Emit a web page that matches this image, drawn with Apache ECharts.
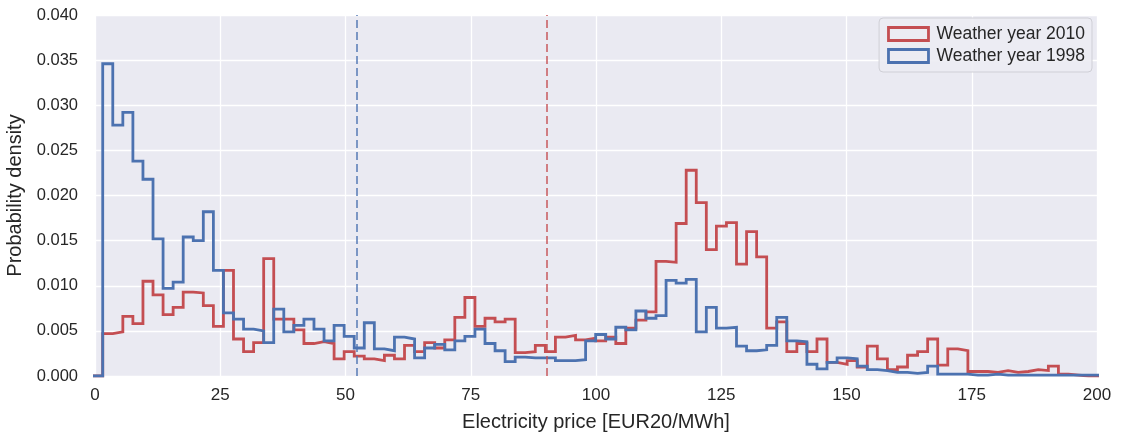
<!DOCTYPE html>
<html><head><meta charset="utf-8">
<script src="https://cdn.jsdelivr.net/npm/echarts@6/dist/echarts.min.js"></script>
<style>html,body{margin:0;padding:0;background:#fff}#c{width:1122px;height:432px}</style>
</head><body><div id="c"></div>
<script>
// Histogram bins (shared by both series); first bin is the empty bin left of the data
const binStart = -0.468;
const binWidth = 2.008;
const seriesNames = ['Weather year 2010', 'Weather year 1998'];
const xTicks = [0, 25, 50, 75, 100, 125, 150, 175, 200];
const yTicks = [0, 0.005, 0.01, 0.015, 0.02, 0.025, 0.03, 0.035, 0.04];
const meanPrices = [90.2, 52.3];

const density2010 = [0,
0.0047,0.0049,0.0066,0.0058,0.0105,0.0090,0.0068,0.0076,0.0093,0.0092,
0.0078,0.0055,0.0117,0.0041,0.0027,0.0037,0.0130,0.0063,0.0063,0.0051,
0.0036,0.0038,0.0036,0.0019,0.0027,0.0022,0.0019,0.0017,0.0023,0.0019,
0.0034,0.0027,0.0037,0.0031,0.0040,0.0065,0.0087,0.0055,0.0064,0.0060,
0.0063,0.0026,0.0027,0.0034,0.0027,0.0043,0.0045,0.0040,0.0042,0.0039,
0.0043,0.0036,0.0053,0.0062,0.0071,0.0127,0.0126,0.0169,0.0228,0.0192,
0.0140,0.0166,0.0170,0.0124,0.0160,0.0132,0.0053,0.0060,0.0027,0.0036,
0.0027,0.0041,0.0015,0.0013,0.0017,0.0010,0.0033,0.0019,0.0007,0.0010,
0.0023,0.0027,0.0041,0.0012,0.0030,0.0028,0.0005,0.0005,0.0004,0.0006,
0.0004,0.0005,0.0007,0.0006,0.0011,0.0002,0.0001,0,0,0];

const density1998 = [0,
0.0346,0.0278,0.0292,0.0238,0.0218,0.0152,0.0097,0.0104,0.0154,0.0150,
0.0182,0.0117,0.0070,0.0063,0.0052,0.0050,0.0037,0.0074,0.0049,0.0056,
0.0063,0.0052,0.0039,0.0056,0.0044,0.0031,0.0059,0.0030,0.0028,0.0043,
0.0041,0.0020,0.0031,0.0035,0.0029,0.0039,0.0044,0.0052,0.0036,0.0028,
0.0016,0.0021,0.0020,0.0020,0.0020,0.0017,0.0017,0.0018,0.0039,0.0046,
0.0041,0.0054,0.0051,0.0072,0.0064,0.0067,0.0106,0.0103,0.0107,0.0049,
0.0076,0.0053,0.0054,0.0033,0.0028,0.0029,0.0034,0.0065,0.0039,0.0038,
0.0013,0.0008,0.0015,0.0020,0.0019,0.0011,0.0007,0.0006,0.0004,0.0004,
0.0003,0.0004,0.0011,0.0002,0.0002,0.0002,0.0001,0.0001,0.0002,0.0001,
0.0001,0.0001,0.0001,0.0001,0.0001,0.0001,0.0001,0.0001,0.0001,0.0001];

const colors = ['#C44E52', '#4C72B0'];

function stepPoints(vals) {
  const pts = [];
  vals.forEach((v, i) => {
    const l = binStart + i * binWidth;
    pts.push([l, v]);
    pts.push([l + binWidth, v]);
  });
  pts.push([binStart + vals.length * binWidth, 0]);
  return pts;
}

const font = '"Liberation Sans", Arial, sans-serif';
const txt = '#262626';
const chart = echarts.init(document.getElementById('c'));
const allData = [density2010, density1998];
chart.setOption({
  animation: false,
  grid: {left: 95, right: 25, top: 15, bottom: 56, show: true, backgroundColor: '#EAEAF2', borderWidth: 0,
         containLabel: false, outerBoundsMode: 'none'},
  legend: {
    orient: 'vertical', right: 30, top: 18,
    backgroundColor: 'rgba(236,236,243,0.9)', borderColor: '#CFCFD6', borderWidth: 1, borderRadius: 4,
    padding: [7, 7, 7, 8], itemGap: 4, itemWidth: 40, itemHeight: 13,
    textStyle: {fontFamily: font, fontSize: 17.5, color: txt, padding: [0, 0, 0, 3]},
    data: seriesNames.map((n, i) => ({name: n, icon: 'rect', itemStyle: {color: 'rgba(0,0,0,0)', borderColor: colors[i], borderWidth: 2.8}}))
  },
  xAxis: {
    type: 'value', min: xTicks[0], max: xTicks[xTicks.length - 1], interval: 25,
    name: 'Electricity price [EUR20/MWh]', nameLocation: 'middle', nameGap: 36,
    nameTextStyle: {fontFamily: font, fontSize: 20, color: txt},
    axisLine: {show: false}, axisTick: {show: false},
    axisLabel: {fontFamily: font, fontSize: 17, color: txt, margin: 11},
    splitLine: {show: true, lineStyle: {color: '#FFFFFF', width: 1.3}}
  },
  yAxis: {
    type: 'value', min: yTicks[0], max: yTicks[yTicks.length - 1], interval: 0.005,
    name: 'Probability density', nameLocation: 'middle', nameGap: 63, nameRotate: 90,
    nameTextStyle: {fontFamily: font, fontSize: 20, color: txt},
    axisLine: {show: false}, axisTick: {show: false},
    axisLabel: {fontFamily: font, fontSize: 16.5, color: txt, margin: 17, formatter: v => v.toFixed(3)},
    splitLine: {show: true, lineStyle: {color: '#FFFFFF', width: 1.3}}
  },
  series: seriesNames.map((n, i) => ({
    name: n, type: 'line', data: stepPoints(allData[i]), showSymbol: false, symbol: 'none',
    clip: true, color: colors[i],
    lineStyle: {color: colors[i], width: 2.8, join: 'miter'},
    markLine: {
      silent: true, symbol: 'none', label: {show: false},
      lineStyle: {color: colors[i], type: [8, 4], width: 2, opacity: 0.7},
      data: [{xAxis: meanPrices[i]}]
    }
  }))
});
</script></body></html>
